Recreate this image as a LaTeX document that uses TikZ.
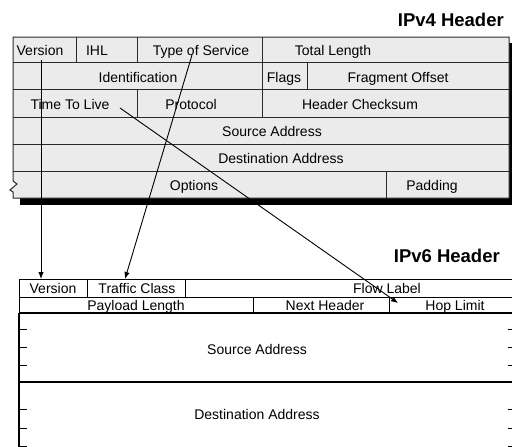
\documentclass[tikz,border=0pt]{standalone}
\usepackage{fontspec}
\setmainfont{Liberation Sans}
\usetikzlibrary{arrows.meta}
\definecolor{cellgray}{HTML}{EBEBEB}
\definecolor{rulegray}{HTML}{2A2A2A}

\begin{document}
\begin{tikzpicture}[x=1pt,y=-1pt,
  lbl/.style={anchor=base, inner sep=0pt, font=\fontsize{14}{16}\selectfont},
  hdrtitle/.style={anchor=base east, inner sep=0pt, font=\fontsize{18.5}{20}\selectfont\bfseries},
  v4rule/.style={draw=rulegray, line width=1pt},
  v6rule/.style={draw=black, line width=0.9pt},
  mapping/.style={draw=black, line width=0.9pt, -{Latex[length=7pt,width=5.5pt]}},
]
\useasboundingbox (0,0) rectangle (512,447);

% ---------- IPv4 header ----------
\node[hdrtitle] (t4) at (504,27) {IPv4 Header};

% drop shadow and the break notch on the right
\fill[black] (20,197.5) rectangle (511.5,204.5);
\fill[black] (508.5,43) rectangle (511.5,204.5);
\fill[black] (509,183.5) -- (504.5,189) -- (509,194.5) -- cycle;

% body with the break mark on the left of the Options row
\filldraw[fill=cellgray, v4rule] (13,37) -- (509,37) -- (509,198) -- (13,198)
  -- (13,192) -- (10,190) -- (17,184) -- (13,181) -- cycle;

\foreach \y in {62,89,117,144,171} \draw[v4rule] (13,\y) -- (509,\y);
\foreach \x in {76,137,262} \draw[v4rule] (\x,37) -- (\x,62);
\foreach \x in {262,307} \draw[v4rule] (\x,62) -- (\x,89);
\foreach \x in {137,262} \draw[v4rule] (\x,89) -- (\x,117);
\draw[v4rule] (386,171) -- (386,198);

\node[lbl] (ver4)  at (40,55)   {Version};
\node[lbl] (ihl)   at (97,55)   {IHL};
\node[lbl] (tos)   at (201,55)  {Type of Service};
\node[lbl] (tlen)  at (333,55)  {Total Length};
\node[lbl] (ident) at (138,82)  {Identification};
\node[lbl] (flags) at (284,82)  {Flags};
\node[lbl] (frag)  at (398,82)  {Fragment Offset};
\node[lbl] (ttl)   at (70,109)  {Time To Live};
\node[lbl] (proto) at (191,109) {Protocol};
\node[lbl] (hcs)   at (360,109) {Header Checksum};
\node[lbl] (src4)  at (272,136) {Source Address};
\node[lbl] (dst4)  at (281,163) {Destination Address};
\node[lbl] (opts)  at (194,190) {Options};
\node[lbl] (pad)   at (432,190) {Padding};

% ---------- IPv6 header ----------
\node[hdrtitle] (t6) at (500,262) {IPv6 Header};

\draw[v6rule] (19,279) -- (512,279);
\draw[v6rule] (19,297) -- (512,297);
\draw[v6rule] (19,279) -- (19,313);
\draw[draw=black, line width=1.2pt] (19,313) -- (19,447);
\draw[draw=black, line width=1.8pt] (19,313) -- (512,313);
\draw[draw=black, line width=1.3pt] (19,382) -- (512,382);
\foreach \x in {87,185} \draw[v6rule] (\x,279) -- (\x,297);
\foreach \x in {253,389} \draw[v6rule] (\x,297) -- (\x,313);
\foreach \y in {329,347,365,409,428,446} {
  \draw[v6rule] (19,\y) -- (27,\y);
  \draw[v6rule] (508,\y) -- (512,\y);
}

\node[lbl] (ver6)  at (53,293)  {Version};
\node[lbl] (tcls)  at (137,293) {Traffic Class};
\node[lbl] (flow)  at (387,293) {Flow Label};
\node[lbl] (plen)  at (136,310) {Payload Length};
\node[lbl] (nhdr)  at (325,310) {Next Header};
\node[lbl] (hop)   at (455,310) {Hop Limit};
\node[lbl] (src6)  at (257,354) {Source Address};
\node[lbl] (dst6)  at (257,419) {Destination Address};

% ---------- field mappings ----------
\coordinate (verFrom) at (41,60);
\coordinate (verTo)   at (41,279);
\coordinate (tosFrom) at (192,55);
\coordinate (tosTo)   at (125,279);
\coordinate (ttlFrom) at (120,108);
\coordinate (ttlTo)   at (398,303);
\draw[mapping] (verFrom) -- (verTo);
\draw[mapping] (tosFrom) -- (tosTo);
\draw[mapping] (ttlFrom) -- (ttlTo);
\end{tikzpicture}
\end{document}
